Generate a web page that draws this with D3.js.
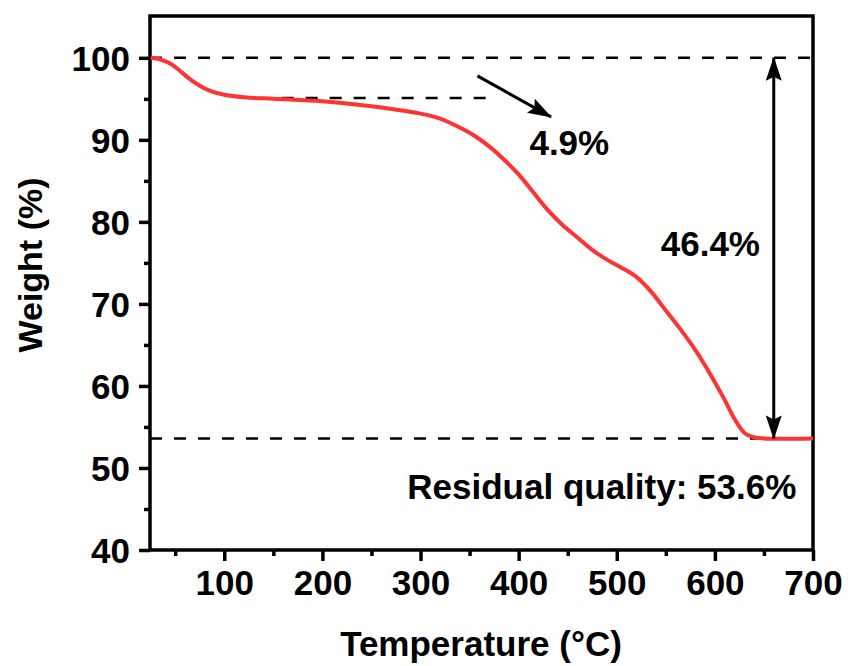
<!DOCTYPE html>
<html>
<head>
<meta charset="utf-8">
<script src="https://cdn.jsdelivr.net/npm/d3@7"></script>
<style>
  body { margin: 0; background: #fff; }
  text { font-family: "Liberation Sans", Arial, sans-serif; font-weight: bold; fill: #000; }
</style>
</head>
<body>
<svg id="chart"></svg>
<script>
// TGA curve
const temps = [25, 35, 45, 55, 65, 75, 85, 100, 120, 150, 200, 250, 300, 320, 340, 355, 370, 385,
  400, 415, 430, 445, 460, 475, 490, 505, 520, 535, 550, 565, 580, 595, 610, 620, 630, 640, 650, 700];
const weights = [100, 99.8, 99.3, 98.4, 97.4, 96.6, 96.0, 95.5, 95.2, 95.0, 94.7, 94.1, 93.2, 92.6,
  91.5, 90.5, 89.2, 87.6, 85.8, 83.6, 81.4, 79.6, 78.1, 76.6, 75.4, 74.4, 73.3, 71.5, 69.2, 66.9,
  64.4, 61.5, 58.3, 56.0, 54.3, 53.75, 53.6, 53.6];

const xTicks = [100, 200, 300, 400, 500, 600, 700];
const xMinor = [50, 150, 250, 350, 450, 550, 650];
const yTicks = [40, 50, 60, 70, 80, 90, 100];
const yMinor = [45, 55, 65, 75, 85, 95];

const startLevel = 100;
const firstLevel = 95.1;   // 100 - 4.9
const residual = 53.6;

const W = 848, H = 666;
const margin = { top: 16, right: 35, bottom: 116, left: 150 };
const width = W - margin.left - margin.right,
  height = H - margin.top - margin.bottom;

const svg = d3.select('#chart').attr('width', W).attr('height', H);
const g = svg.append('g').attr('transform', `translate(${margin.left},${margin.top})`);

const x = d3.scaleLinear().domain([24.3, 700]).range([0, width]);
const y = d3.scaleLinear().domain([40, 105.1]).range([height, 0]);

// axes: major + minor ticks, outward
function styleAxis(sel) {
  sel.select('.domain').remove();
  sel.selectAll('.tick line').attr('stroke', '#000').attr('stroke-width', 3.5);
}
g.append('g').attr('transform', `translate(0,${height})`)
  .call(d3.axisBottom(x).tickValues(xMinor).tickSize(6).tickFormat(''))
  .call(styleAxis);
g.append('g').attr('transform', `translate(0,${height})`)
  .call(d3.axisBottom(x).tickValues(xTicks).tickSize(11).tickPadding(9))
  .call(styleAxis)
  .selectAll('text').style('font-size', '35px').attr('dy', '0.72em');
g.append('g')
  .call(d3.axisLeft(y).tickValues(yMinor).tickSize(6).tickFormat(''))
  .call(styleAxis);
g.append('g')
  .call(d3.axisLeft(y).tickValues(yTicks).tickSize(11).tickPadding(9))
  .call(styleAxis)
  .selectAll('text').style('font-size', '35px').attr('dy', '0.36em');

// frame
g.append('rect').attr('x', 0).attr('y', 0).attr('width', width).attr('height', height)
  .attr('fill', 'none').attr('stroke', '#000').attr('stroke-width', 3.5);

// dashed guide lines
function hline(v, t0, t1) {
  g.append('line')
    .attr('x1', x(t0)).attr('x2', x(t1)).attr('y1', y(v)).attr('y2', y(v))
    .attr('stroke', '#000').attr('stroke-width', 2.5)
    .attr('stroke-dasharray', '12,12').attr('fill', 'none');
}
hline(startLevel, 24.3, 700);
hline(residual, 24.3, 700);
hline(firstLevel, 158.5, 369);

// curve
const line = d3.line().x(d => x(d[0])).y(d => y(d[1])).curve(d3.curveCatmullRom.alpha(0.5));
g.append('path').datum(d3.zip(temps, weights))
  .attr('d', line)
  .attr('fill', 'none').attr('stroke', '#ff3333').attr('stroke-width', 4)
  .attr('stroke-linejoin', 'round');

// arrow heads
const defs = svg.append('defs');
defs.append('marker').attr('id', 'head')
  .attr('viewBox', '0 0 24 16').attr('refX', 23).attr('refY', 8)
  .attr('markerWidth', 24).attr('markerHeight', 16)
  .attr('markerUnits', 'userSpaceOnUse').attr('orient', 'auto-start-reverse')
  .append('path').attr('d', 'M0,0 L24,8 L0,16 L4,8 Z').attr('fill', '#000');

// 4.9% arrow
g.append('line')
  .attr('x1', x(358)).attr('y1', y(97.8)).attr('x2', x(433)).attr('y2', y(92.8))
  .attr('stroke', '#000').attr('stroke-width', 3).attr('marker-end', 'url(#head)');
g.append('text').attr('x', x(411)).attr('y', y(88.2))
  .style('font-size', '35px').text('4.9%');

// 46.4% double arrow
g.append('line')
  .attr('x1', x(660)).attr('x2', x(660)).attr('y1', y(startLevel)).attr('y2', y(residual))
  .attr('stroke', '#000').attr('stroke-width', 3)
  .attr('marker-start', 'url(#head)').attr('marker-end', 'url(#head)');
g.append('text').attr('x', x(646)).attr('y', y(75.8)).attr('text-anchor', 'end')
  .style('font-size', '35px').text('46.4%');

g.append('text').attr('x', x(683)).attr('y', y(46.2)).attr('text-anchor', 'end')
  .style('font-size', '35px').text('Residual quality: 53.6%');

// axis titles
svg.append('text').attr('x', 481).attr('y', 656)
  .attr('text-anchor', 'middle').style('font-size', '35px').text('Temperature (°C)');
svg.append('text').attr('transform', `translate(42,265) rotate(-90)`)
  .attr('text-anchor', 'middle').style('font-size', '34px').text('Weight (%)');
</script>
</body>
</html>
